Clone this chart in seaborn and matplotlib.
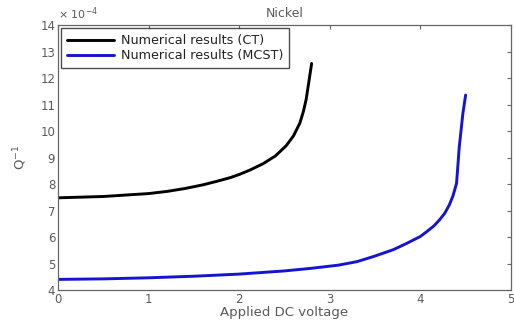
import numpy as np
import pandas as pd
import matplotlib
matplotlib.use("Agg")
import matplotlib.pyplot as plt
import seaborn as sns

# Data (Q^-1 in units of 1e-4)
ct_voltage = [0.0, 0.5, 1.0, 1.2, 1.4, 1.6, 1.75, 1.9, 2.0, 2.12, 2.26, 2.4, 2.52,
              2.6, 2.67, 2.71, 2.74, 2.76, 2.78, 2.80]
ct_q = [7.48, 7.53, 7.64, 7.72, 7.83, 7.97, 8.10, 8.24, 8.36, 8.53, 8.76, 9.06, 9.45,
        9.82, 10.30, 10.75, 11.20, 11.65, 12.10, 12.55]
mcst_voltage = [0.0, 0.5, 1.0, 1.5, 2.0, 2.5, 2.8, 3.1, 3.3, 3.48, 3.7, 3.85, 4.0,
                4.07, 4.15, 4.21, 4.27, 4.32, 4.36, 4.40, 4.43, 4.47, 4.50]
mcst_q = [4.40, 4.42, 4.46, 4.52, 4.60, 4.72, 4.82, 4.94, 5.07, 5.26, 5.52, 5.76, 6.02,
          6.20, 6.42, 6.64, 6.90, 7.21, 7.55, 8.03, 9.41, 10.67, 11.36]
series_names = ["Numerical results (CT)", "Numerical results (MCST)"]
series_colors = ["#000000", "#1414d2"]
x_ticks = [0, 1, 2, 3, 4, 5]
y_ticks = [4, 5, 6, 7, 8, 9, 10, 11, 12, 13, 14]

df = pd.concat([
    pd.DataFrame({"V": ct_voltage, "Q": ct_q, "series": series_names[0]}),
    pd.DataFrame({"V": mcst_voltage, "Q": mcst_q, "series": series_names[1]}),
], ignore_index=True)

sns.set_style("white")
plt.rcParams["font.family"] = ["DejaVu Sans"]

tc = "#5a5a5a"
fig = plt.figure(figsize=(5.14, 3.22), dpi=100)
ax = fig.add_axes([0.1128, 0.0994, 0.8812, 0.8226])
sns.lineplot(data=df, x="V", y="Q", hue="series", palette=series_colors,
             linewidth=2.1, ax=ax, sort=False, estimator=None)

ax.set_xlim(0, 5)
ax.set_ylim(4, 14)
ax.set_xticks(x_ticks)
ax.set_yticks(y_ticks)
ax.tick_params(direction="in", length=3, width=0.8, colors="#666666",
               labelsize=8.5, top=True, right=True, labelcolor=tc, pad=2)
for s in ax.spines.values():
    s.set_color("#666666")
    s.set_linewidth(0.9)

ax.set_xlabel("Applied DC voltage", fontsize=9.5, color=tc, labelpad=0)
ax.set_ylabel("Q$^{-1}$", fontsize=9.5, color=tc, labelpad=8)
ax.set_title("Nickel", fontsize=9, color=tc, pad=6)
ax.text(0.0, 1.01, "× 10$^{-4}$", transform=ax.transAxes, fontsize=8,
        color=tc, ha="left", va="bottom")

leg = ax.legend(loc="upper left", fontsize=9.2, frameon=True, fancybox=False,
                edgecolor="#222222", handlelength=3.7, borderaxespad=0.25,
                borderpad=0.45, labelspacing=0.15, handletextpad=0.5)
leg.get_frame().set_linewidth(1.0)
for t in leg.get_texts():
    t.set_color("#222222")
for l in leg.get_lines():
    l.set_linewidth(2.1)

fig.savefig("out.png", dpi=100)
